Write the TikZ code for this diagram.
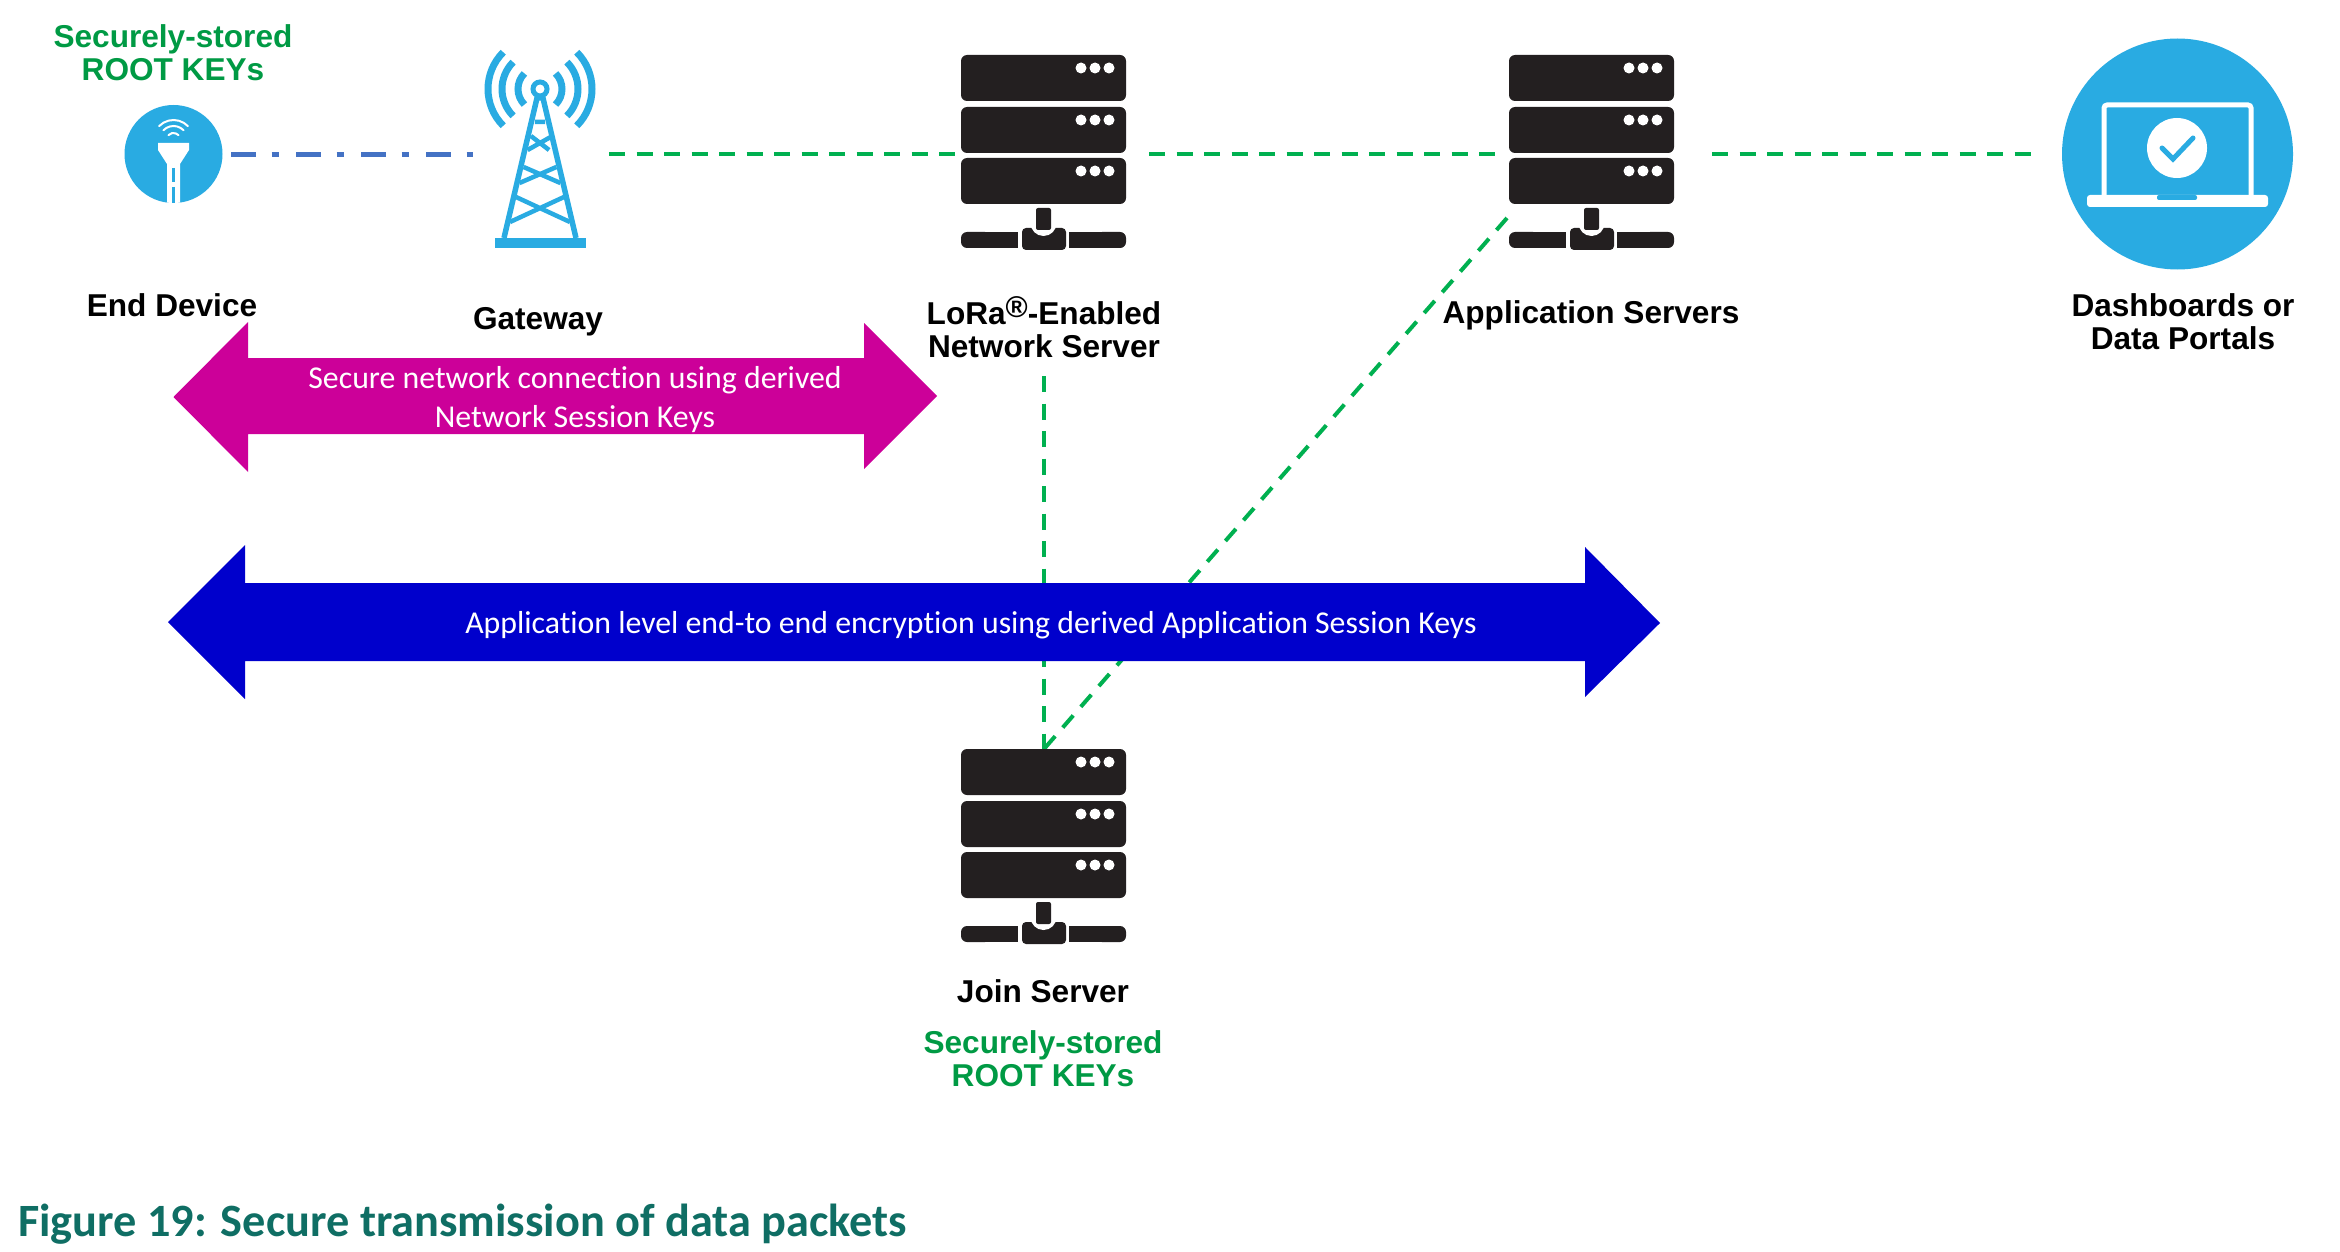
\documentclass[tikz,border=0pt]{standalone}
\usepackage{fontspec}
\setmainfont{Liberation Sans}
\newfontfamily\calfont[Ligatures=NoCommon]{Carlito}
\definecolor{skyc}{HTML}{29ABE2}
\definecolor{inkc}{HTML}{231F20}
\definecolor{dashg}{HTML}{00B050}
\definecolor{keyg}{HTML}{009A44}
\definecolor{linkb}{HTML}{4472C4}
\definecolor{magc}{HTML}{CC0099}
\definecolor{roy}{HTML}{0000CC}
\definecolor{teal2}{HTML}{0F6E64}
\tikzset{
  lab/.style={font=\fontsize{31.6}{33}\selectfont\bfseries,align=center,text=black,inner sep=0pt},
  keylab/.style={lab,text=keyg},
  arrlab/.style={font=\calfont\fontsize{31.8}{39}\selectfont,align=center,text=white,inner sep=0pt},
  greenlink/.style={draw=dashg,line width=4pt,dash pattern=on 16pt off 11.5pt},
  serverstack/.pic={
    \foreach \t in {0,52,103}{
      \fill[inkc,rounded corners=6pt] (0,\t) rectangle (165,\t+46);
      \foreach \d in {120,134,148}{\fill[white] (\d,\t+13) circle[radius=5.5pt];}
    }
    \fill[inkc,rounded corners=6pt] (0,177) rectangle (30,193);
    \fill[inkc] (20,177) rectangle (57,193);
    \fill[inkc,rounded corners=6pt] (135,177) rectangle (165,193);
    \fill[inkc] (108,177) rectangle (145,193);
    \fill[inkc,rounded corners=4pt] (61,173) rectangle (105,195);
    \fill[white] (82.5,168) circle[radius=13pt];
    \fill[inkc,rounded corners=2pt] (75,153) rectangle (90,175);
  }
}
\begin{document}
\begin{tikzpicture}[x=1pt,y=-1pt]
\useasboundingbox[fill=white] (0,0) rectangle (2340,1252);

% connector ends
\coordinate (devE) at (231,155);
\coordinate (gwW) at (473,155);
\coordinate (gwE) at (609,154);
\coordinate (netW) at (955,154);
\coordinate (netE) at (1149,154);
\coordinate (appW) at (1497,154);
\coordinate (appE) at (1712,154);
\coordinate (dashW) at (2033,154);
\coordinate (netS) at (1044,376);
\coordinate (joinN) at (1044,749);
\coordinate (appSW) at (1507,218);

% connectors
\draw[linkb,line width=5pt,dash pattern=on 24.5pt off 16pt on 7pt off 17.5pt] (devE) -- (gwW);
\draw[greenlink] (gwE) -- (netW);
\draw[greenlink] (netE) -- (appW);
\draw[greenlink] (appE) -- (dashW);
\draw[greenlink] (netS) -- (joinN);
\draw[greenlink] (appSW) -- (joinN);

% end device
\fill[skyc] (173.5,154) circle[radius=49pt];
\begin{scope}
  \clip (173.5,154) circle[radius=49pt];
  \fill[white] (158,143) -- (189,143) -- (189,150) -- (180,164) -- (180,205) -- (167,205) -- (167,164) -- (158,150) -- cycle;
  \draw[skyc,line width=2.5pt] (173.5,168) -- (173.5,182) (173.5,187) -- (173.5,204);
\end{scope}
\foreach \r in {7,14,20}{
  \draw[white,line width=2pt,line cap=round] (173.5,140) ++(44:\r pt) arc[start angle=44,end angle=136,radius=\r pt];
}

% gateway tower
\foreach \r in {22,38,52}{
  \draw[skyc,line width=7pt] (540,89) ++(-45:\r pt) arc[start angle=-45,end angle=45,radius=\r pt];
  \draw[skyc,line width=7pt] (540,89) ++(135:\r pt) arc[start angle=135,end angle=225,radius=\r pt];
}
\draw[skyc,line width=5pt] (540,89) circle[radius=7pt];
\draw[skyc,line width=5.5pt,line join=round] (504,238) -- (537,98) -- (543,98) -- (576,238);
\draw[skyc,line width=4.5pt]
  (534.9,122) -- (545.1,122)
  (530.9,136) -- (549.1,150)
  (527.6,150) -- (552.4,136)
  (523.6,167) -- (560.4,183)
  (519.5,183) -- (556.4,167)
  (516,197) -- (570,222)
  (510,222) -- (564,197);
\fill[skyc] (495,238) rectangle (586,248);

% dashboards
\fill[skyc] (2177.5,154) circle[radius=115.5pt];
\draw[white,line width=5pt,rounded corners=3pt] (2104,195) -- (2104,105) -- (2251,105) -- (2251,195);
\fill[white,rounded corners=3pt] (2087,195) rectangle (2268,207);
\fill[skyc,rounded corners=2pt] (2157,195) rectangle (2197,200);
\fill[white] (2177,148) circle[radius=30pt];
\draw[skyc,line width=5pt,line cap=round] (2162,148) -- (2173,159) -- (2193,138);

% servers
\pic at (961,55) {serverstack};
\pic at (1509,55) {serverstack};
\pic at (961,749) {serverstack};

% band arrows
\fill[magc] (173.5,397) -- (248,322) -- (248,358) -- (864,358) -- (864,323) -- (937,396) -- (864,469) -- (864,434) -- (248,434) -- (248,472) -- cycle;
\fill[roy] (168,622) -- (245,545) -- (245,583) -- (1585,583) -- (1585,547) -- (1660,623) -- (1585,697) -- (1585,661) -- (245,661) -- (245,699) -- cycle;

% labels
\node[keylab] (keysA) at (173,53) {Securely-stored\\ROOT KEYs};
\node[lab] (lblDev) at (172,305) {End Device};
\node[lab] (lblGw) at (538,322) {Gateway};
\node[lab] (lblNet) at (1044,327) {LoRa\raisebox{7pt}{\fontsize{30}{30}\selectfont\textregistered}-Enabled\\Network Server};
\node[lab] (lblApp) at (1591,315) {Application Servers};
\node[lab] (lblDash) at (2183,322) {Dashboards or\\Data Portals};
\node[lab] (lblJoin) at (1043,991) {Join Server};
\node[keylab] (keysB) at (1043,1059) {Securely-stored\\ROOT KEYs};
\node[arrlab] (txtMag) at (575,400) {Secure network connection using derived\\Network Session Keys};
\node[arrlab] (txtBlue) at (971,625) {Application level end-to end encryption using derived Application Session Keys};
\node[font=\calfont\bfseries\fontsize{46.3}{46}\selectfont,text=teal2,anchor=west,inner sep=0pt] (caption) at (18,1224) {Figure 19: Secure transmission of data packets};
\end{tikzpicture}
\end{document}
